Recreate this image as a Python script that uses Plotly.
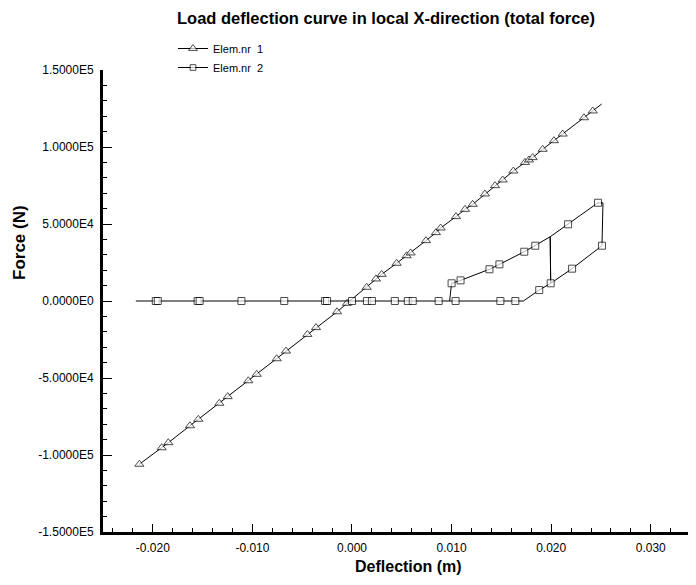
import plotly.graph_objects as go

# ---- data ----
elem1_x = [-0.02135, -0.01911, -0.01844, -0.01627, -0.01543, -0.01332, -0.01248,
           -0.01041, -0.00957, -0.00756, -0.00663, -0.00448, -0.00361, -0.00150,
           -0.00050, 0.00147, 0.00241, 0.00298, 0.00448, 0.00549, 0.00589,
           0.00743, 0.00843, 0.00890, 0.01044, 0.01135, 0.01212, 0.01335,
           0.01436, 0.01513, 0.01620, 0.01737, 0.01777, 0.01814, 0.01914,
           0.02028, 0.02115, 0.02329, 0.02417, 0.02507]
elem1_f = [-106000, -95300, -92000, -81000, -76800, -66400, -62100,
           -51800, -47600, -37500, -32500, -21700, -17300, -7000,
           -1500, 8900, 14300, 17300, 24500, 29400, 31200,
           39200, 44400, 47400, 54800, 59500, 62800, 69500,
           74900, 78600, 84400, 90000, 91600, 93100, 98500,
           104100, 108400, 119000, 123400, 127900]
elem1_sym = [1] * 39 + [0]

elem2_x = [-0.0217, -0.0197, -0.0195, -0.0155, -0.0153, -0.0111, -0.0068,
           -0.0027, -0.0025, 0.0000, 0.0015, 0.0020, 0.0043, 0.0056, 0.0061,
           0.0087, 0.0104, 0.0149, 0.0164, 0.0172, 0.0188, 0.01995, 0.0199,
           0.0217, 0.0247, 0.0252, 0.0251, 0.0221, 0.01995, 0.0199, 0.0184,
           0.0173, 0.0148, 0.0138, 0.0109, 0.0100, 0.0098]
elem2_f = [0, 0, 0, 0, 0, 0, 0,
           0, 0, 0, 0, 0, 0, 0, 0,
           0, 0, 0, 0, 0, 7100, 11500, 41700,
           49800, 63800, 63700, 35900, 21000, 11500, 41700, 35900,
           32000, 23800, 20600, 13400, 11500, 0]
elem2_sym = [0] + [1] * 18 + [0, 1, 1, 0, 1, 1, 0, 1, 1, 0, 0, 1, 1, 1, 1, 1, 1, 0]

series_names = ["Elem.nr\u00a0 1", "Elem.nr\u00a0 2"]

x_ticks = [-0.020, -0.010, 0.000, 0.010, 0.020, 0.030]
x_ticklabels = ["-0.020", "-0.010", "0.000", "0.010", "0.020", "0.030"]
y_ticks = [150000, 100000, 50000, 0, -50000, -100000, -150000]
y_ticklabels = ["1.5000E5", "1.0000E5", "5.0000E4", "0.0000E0",
                "-5.0000E4", "-1.0000E5", "-1.5000E5"]

FONT = "Liberation Sans, Arial, Helvetica, sans-serif"

# The page body has an 8px default margin, so the figure is sized to fit the
# 696x585 window with that offset.
OFF = 8
W, H = 696 - OFF, 585 - OFF
L, R, T = 103 - OFF, 0, 70 - OFF
B = H - (532 - OFF)
PW, PH = W - L - R, H - T - B

def win_to_paper(px, py):
    return (px - OFF - L) / PW, (H - B - (py - OFF)) / PH

fig = go.Figure()
fig.add_trace(go.Scatter(
    x=elem1_x, y=elem1_f, mode="lines+markers", name=series_names[0],
    line=dict(color="black", width=1),
    marker=dict(symbol="triangle-up", size=[8 * s for s in elem1_sym],
                color="white", line=dict(color="black", width=1)),
))
fig.add_trace(go.Scatter(
    x=elem2_x, y=elem2_f, mode="lines+markers", name=series_names[1],
    line=dict(color="black", width=1),
    marker=dict(symbol="square", size=[7 * s for s in elem2_sym],
                color="white", line=dict(color="black", width=1)),
))

xt_x, xt_y = win_to_paper(408, 566)
yt_x, yt_y = win_to_paper(19, 242)

fig.update_layout(
    width=W, height=H,
    margin=dict(l=L, r=R, t=T, b=B, autoexpand=False),
    paper_bgcolor="white", plot_bgcolor="white",
    font=dict(family=FONT, color="black", size=12),
    title=dict(text="Load deflection curve in local X-direction (total force)",
               font=dict(size=16.5, weight="bold", family=FONT),
               x=(386 - OFF) / W, xanchor="center", xref="container",
               y=1 - (18 - OFF) / H, yanchor="middle", yref="container"),
    showlegend=True,
    legend=dict(x=(173 - OFF) / W, xanchor="left", xref="container",
                y=1 - (34 - OFF) / H, yanchor="top", yref="container",
                font=dict(size=11, family=FONT), bgcolor="rgba(0,0,0,0)",
                tracegroupgap=0, itemsizing="trace"),
    xaxis=dict(range=[-0.025, 0.03454], showline=True, linewidth=3, linecolor="black",
               ticks="inside", ticklen=8, tickwidth=1, tickcolor="black",
               tickmode="array", tickvals=x_ticks, ticktext=x_ticklabels,
               tickfont=dict(size=12), ticklabelstandoff=3,
               showgrid=False, zeroline=False,
               minor=dict(ticks="inside", ticklen=4, tickwidth=1, tickcolor="black",
                          dtick=0.002, tick0=0, showgrid=False)),
    yaxis=dict(range=[-150000, 150000], showline=True, linewidth=3, linecolor="black",
               ticks="inside", ticklen=9, tickwidth=1, tickcolor="black",
               tickmode="array", tickvals=y_ticks, ticktext=y_ticklabels,
               tickfont=dict(size=12), ticklabelstandoff=4,
               showgrid=False, zeroline=False,
               minor=dict(ticks="inside", ticklen=4, tickwidth=1, tickcolor="black",
                          dtick=10000, tick0=0, showgrid=False)),
    annotations=[
        dict(text="Deflection (m)", x=xt_x, y=xt_y, xref="paper", yref="paper",
             showarrow=False, font=dict(size=16, weight="bold", family=FONT),
             xanchor="center", yanchor="middle"),
        dict(text="Force (N)", x=yt_x, y=yt_y, xref="paper", yref="paper",
             showarrow=False, textangle=-90, font=dict(size=17, weight="bold", family=FONT),
             xanchor="center", yanchor="middle"),
    ],
)

fig.write_html("out.html")
